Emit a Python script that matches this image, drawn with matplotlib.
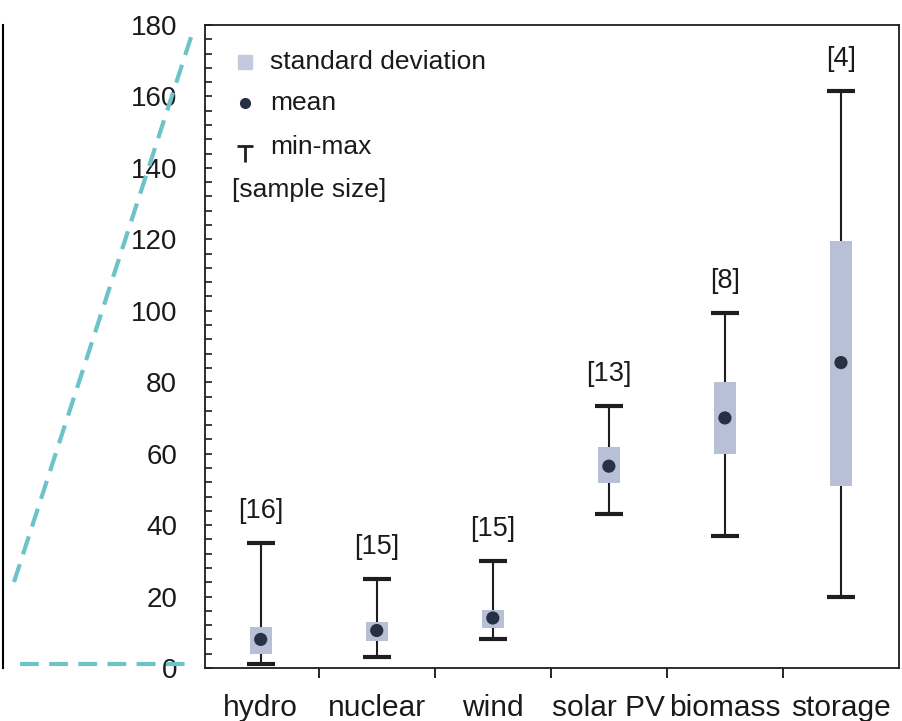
import matplotlib
matplotlib.use("Agg")
import matplotlib.pyplot as plt
from matplotlib.lines import Line2D
from matplotlib.path import Path
from matplotlib.ticker import MultipleLocator, FixedLocator, NullFormatter

plt.rcParams['font.family'] = ['Liberation Sans', 'DejaVu Sans']

# Cost spread per technology
categories = ['hydro', 'nuclear', 'wind', 'solar PV', 'biomass', 'storage']
means = [8, 10.5, 14, 56.5, 70, 85.5]
sd_low = [4, 7.5, 11.2, 51.8, 60, 51]
sd_high = [11.5, 13, 16.2, 62, 80, 119.5]
mins = [1, 3, 8, 43, 37, 20]
maxs = [35, 25, 30, 73.3, 99.5, 161.5]
sample_sizes = [16, 15, 15, 13, 8, 4]
y_ticks = [0, 20, 40, 60, 80, 100, 120, 140, 160, 180]

box_color = '#b8c0d8'
dot_color = '#283044'
line_color = '#1e1e1e'
teal = '#6cc3c8'

W, H = 903, 721
fig = plt.figure(figsize=(W / 100, H / 100), dpi=100)

ax = fig.add_axes([205 / W, 1 - 668 / H, (899 - 205) / W, (668 - 25) / H])
x = list(range(len(categories)))

# whiskers and caps
ax.vlines(x, mins, maxs, color=line_color, lw=1.5, zorder=2)
ax.hlines(mins, [i - 0.12 for i in x], [i + 0.12 for i in x], color=line_color, lw=3, zorder=2)
ax.hlines(maxs, [i - 0.12 for i in x], [i + 0.12 for i in x], color=line_color, lw=3, zorder=2)

# standard deviation boxes
ax.bar(x, [h - l for h, l in zip(sd_high, sd_low)], bottom=sd_low, width=0.19,
       color=box_color, edgecolor='none', zorder=3)

# means
ax.scatter(x, means, s=90, color=dot_color, zorder=4, edgecolors='none')

# sample sizes
for xi, m, n in zip(x, maxs, sample_sizes):
    ax.annotate(f'[{n}]', (xi, m), xytext=(0, 23), textcoords='offset points',
                ha='center', va='center', fontsize=19.5, color='#1a1a1a')

ax.set_xlim(-0.48, 5.5)
ax.set_ylim(0, 180)

ax.yaxis.set_major_locator(FixedLocator(y_ticks))
ax.yaxis.set_minor_locator(MultipleLocator(4))
ax.tick_params(axis='y', which='both', direction='in', length=5, width=1.2,
               labelsize=20, pad=20, colors=line_color)
ax.tick_params(axis='y', which='major', labelcolor='#1a1a1a')

ax.xaxis.set_major_locator(FixedLocator([0.5, 1.5, 2.5, 3.5, 4.5]))
ax.xaxis.set_major_formatter(NullFormatter())
ax.xaxis.set_minor_locator(FixedLocator(x))
ax.set_xticklabels(categories, minor=True)
ax.tick_params(axis='x', which='major', direction='out', length=7, width=1.2)
ax.tick_params(axis='x', which='minor', length=0, labelsize=21.5, pad=19,
               labelcolor='#1a1a1a')

for s in ax.spines.values():
    s.set_linewidth(1.3)
    s.set_color(line_color)

# key
kx, tx = 0.058, 0.094
key_font = 19
ax.plot([kx], [0.9425], marker='s', ms=10, color='#c3cae0', ls='none',
        transform=ax.transAxes)
ax.text(tx, 0.9425, 'standard deviation', transform=ax.transAxes, va='center',
        fontsize=key_font, color='#1a1a1a')
ax.plot([kx], [0.879], marker='o', ms=7, color=dot_color, ls='none',
        transform=ax.transAxes)
ax.text(tx, 0.879, 'mean', transform=ax.transAxes, va='center',
        fontsize=key_font, color='#1a1a1a')
tee = Path([(-0.5, 0.5), (0.5, 0.5), (0, 0.5), (0, -0.5)],
           [Path.MOVETO, Path.LINETO, Path.MOVETO, Path.LINETO])
ax.plot([kx], [0.8], marker=tee, ms=12, mew=2, mec=line_color, ls='none',
        transform=ax.transAxes)
ax.text(tx, 0.81, 'min-max', transform=ax.transAxes, va='center',
        fontsize=key_font, color='#1a1a1a')
ax.text(0.039, 0.743, '[sample size]', transform=ax.transAxes, va='center',
        fontsize=key_font, color='#1a1a1a')

# edge of the neighbouring panel
side = fig.add_axes([-0.2, 1 - 668 / H, 0.2 + 3 / W, (668 - 25) / H])
side.set_xticks([])
side.set_yticks([])
for name, s in side.spines.items():
    s.set_visible(name == 'right')
side.spines['right'].set_linewidth(1.5)
side.patch.set_alpha(0)

# zoom connector lines
def fx(px):
    return px / W

def fy(py):
    return 1 - py / H

fig.add_artist(Line2D([fx(14), fx(194)], [fy(582), fy(28)], color=teal, lw=3,
                      ls=(0, (4.5, 2.5))))
fig.add_artist(Line2D([fx(20), fx(190)], [fy(664), fy(664)], color=teal, lw=3,
                      ls=(0, (4.5, 2.5))))

fig.savefig('out.png', dpi=100)
